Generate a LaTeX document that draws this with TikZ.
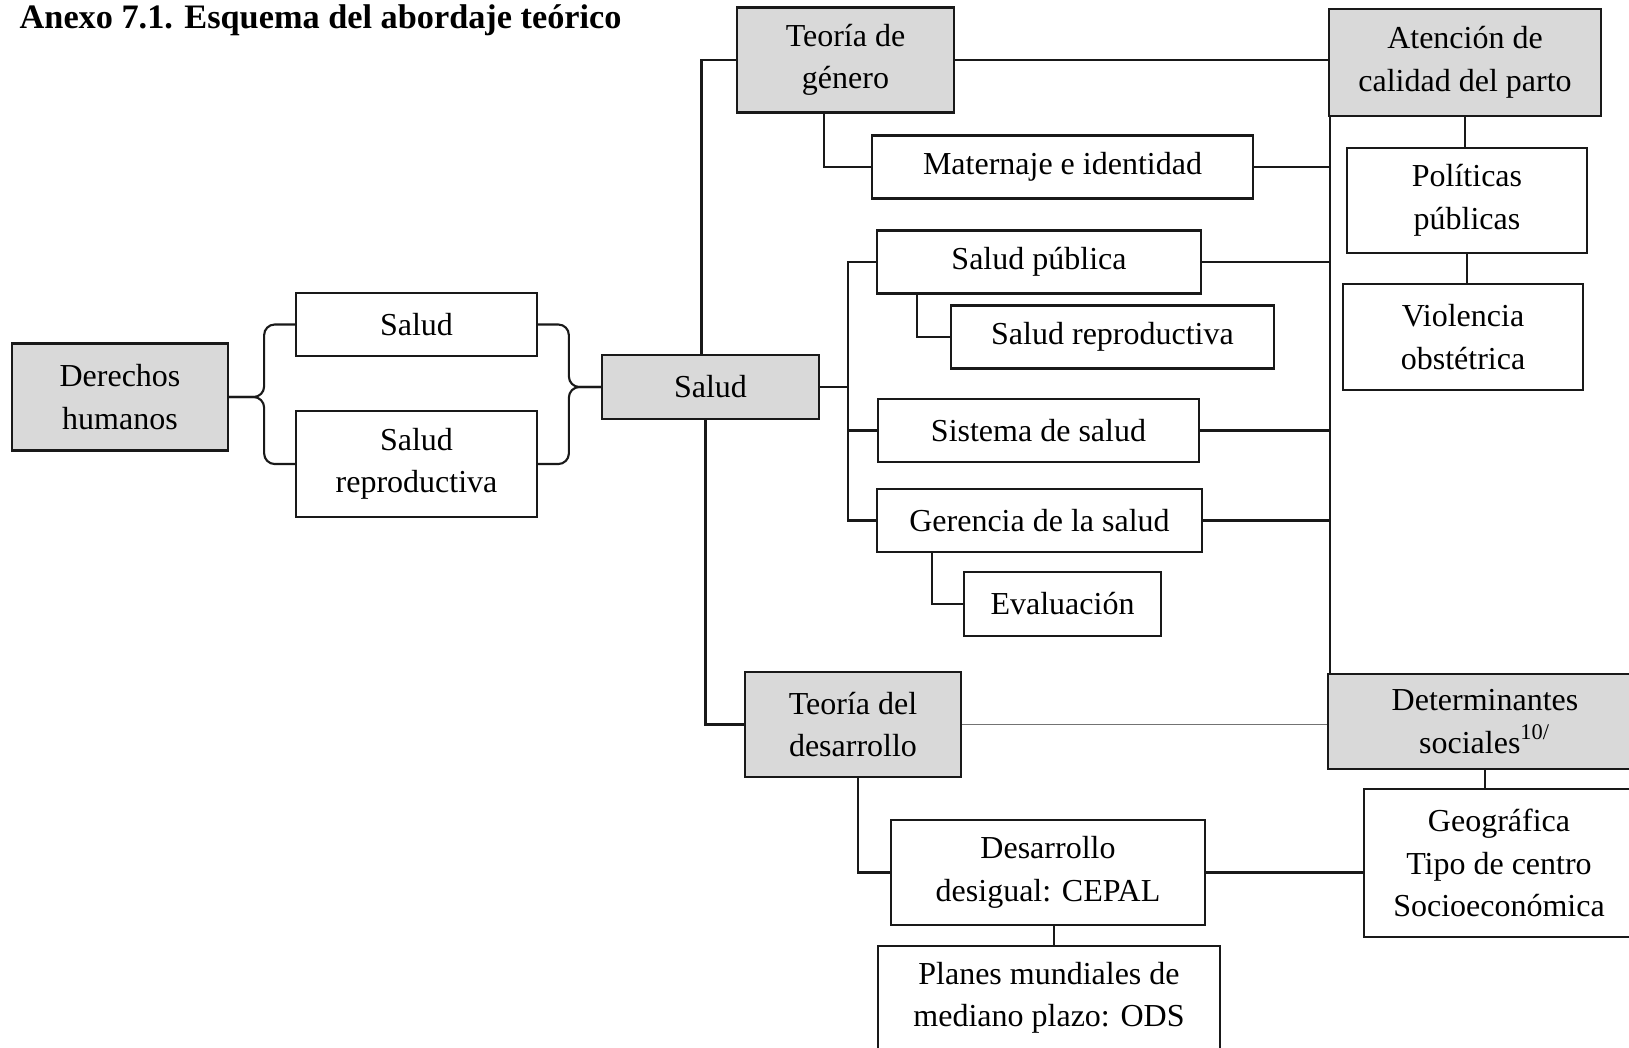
\documentclass[tikz,border=0pt]{standalone}
\usepackage{fontspec}
\setmainfont{Liberation Serif}
\usetikzlibrary{calc}
\definecolor{boxgray}{RGB}{217,217,217}
\definecolor{linedark}{RGB}{25,25,25}
\definecolor{linegray}{RGB}{115,115,115}
\tikzset{
    box/.style 2 args={draw=linedark,line width=0.6pt,align=center,inner sep=0pt,
        minimum width=#1,minimum height=#2},
    keybox/.style={fill=boxgray},
    link/.style={draw=linedark,line width=0.6pt},
}

\begin{document}
\begin{tikzpicture}[x=0.01cm,y=-0.01cm,font=\fontsize{9.1}{12.1}\selectfont]

% Page frame
\useasboundingbox (0,0) rectangle (1629,1047);
\clip (0,0) rectangle (1629,1047);

% Title
\node[anchor=base west,inner sep=0pt,font=\fontsize{9.75}{12}\selectfont\bfseries] (title) at (19,28)
    {Anexo 7.1. Esquema del abordaje teórico};

% Left part
\node[box={2.16cm}{1.07cm},keybox] (der) at (120,397) {Derechos\\humanos};
\node[box={2.41cm}{0.63cm}] (sal1) at (416.5,324.5) {Salud};
\node[box={2.41cm}{1.06cm}] (sal2) at (416.5,464) {Salud\\reproductiva};
\node[box={2.17cm}{0.64cm},keybox] (sal) at (710.5,387) {Salud};

% Middle column
\node[box={2.17cm}{1.05cm},keybox] (gen) at (845.5,60) {Teoría de\\género};
\node[box={3.81cm}{0.63cm}] (mat) at (1062.5,167) {Maternaje e identidad};
\node[box={3.24cm}{0.63cm}] (pub) at (1039,262) {Salud pública};
\node[box={3.23cm}{0.63cm}] (rep) at (1112.5,337) {Salud reproductiva};
\node[box={3.21cm}{0.63cm}] (sis) at (1038.5,430.5) {Sistema de salud};
\node[box={3.25cm}{0.63cm}] (ger) at (1039.5,520.5) {Gerencia de la salud};
\node[box={1.97cm}{0.64cm}] (eva) at (1062.5,604) {Evaluación};
\node[box={2.16cm}{1.05cm},keybox] (des) at (853,724.5) {Teoría del\\desarrollo};
\node[box={3.14cm}{1.05cm}] (cep) at (1048,872.5) {Desarrollo\\desigual: CEPAL};
\node[box={3.42cm}{1.04cm}] (ods) at (1049,998) {Planes mundiales de\\mediano plazo: ODS};

% Right column
\node[box={2.72cm}{1.07cm},keybox] (ate) at (1465,62.5) {Atención de\\calidad del parto};
\node[box={2.40cm}{1.05cm}] (pol) at (1467,200.5) {Políticas\\públicas};
\node[box={2.40cm}{1.06cm}] (vio) at (1463,337) {Violencia\\obstétrica};
\node[box={3.14cm}{0.95cm},keybox] (det) at (1485,721.5) {Determinantes\\sociales\textsuperscript{10/}};
\node[box={2.70cm}{1.48cm}] (geo) at (1499,863) {Geográfica\\Tipo de centro\\Socioeconómica};

% Braces
\draw[link,rounded corners=3pt] (sal1.west) -| ($(der.east)+(35,0)$) -- (der.east);
\draw[link,rounded corners=3pt] (sal2.west) -| ($(der.east)+(35,0)$) -- (der.east);
\draw[link,rounded corners=3pt] (sal1.east) -| ($(sal.west)+(-32,0)$) -- (sal.west);
\draw[link,rounded corners=3pt] (sal2.east) -| ($(sal.west)+(-32,0)$) -- (sal.west);

% Salud to the theories
\draw[link] ($(sal.north)+(-9,0)$) |- (gen.west);
\draw[link] ($(sal.south)+(-5,0)$) |- (des.west);

% Salud branches
\coordinate (hub) at ($(sal.east)+(28,0)$);
\draw[link] (sal.east) -- (hub);
\draw[link] (pub.west) -| (hub) |- (ger.west);
\draw[link] (sis.west) -- (sis.west -| hub);

% Sub branches
\draw[link] ($(gen.south west)+(88,0)$) |- (mat.west);
\draw[link] ($(pub.south west)+(41.5,0)$) |- (rep.west);
\draw[link] ($(ger.south west)+(56,0)$) |- (eva.west);
\draw[link] ($(des.south west)+(114,0)$) |- (cep.west);
\coordinate (cepfoot) at ($(cep.south)+(6,0)$);
\draw[link] (cepfoot) -- (cepfoot |- ods.north);

% Right spine
\coordinate (spine) at ($(ate.south west)+(2,0)$);
\draw[link] (spine) -- (spine |- det.north);
\draw[link] (gen.east) -- (gen.east -| ate.west);
\draw[link] (mat.east) -- (mat.east -| spine);
\draw[link] (pub.east) -- (pub.east -| spine);
\draw[link] (sis.east) -- (sis.east -| spine);
\draw[link] (ger.east) -- (ger.east -| spine);

% Right column links
\draw[link] (ate.south) -- (ate.south |- pol.north);
\draw[link] (pol.south) -- (pol.south |- vio.north);
\draw[link] (det.south) -- (det.south |- geo.north);
\draw[link] (cep.east) -- (cep.east -| geo.west);
\draw[linegray,line width=0.5pt] (des.east) -- (des.east -| det.west);

\end{tikzpicture}
\end{document}
